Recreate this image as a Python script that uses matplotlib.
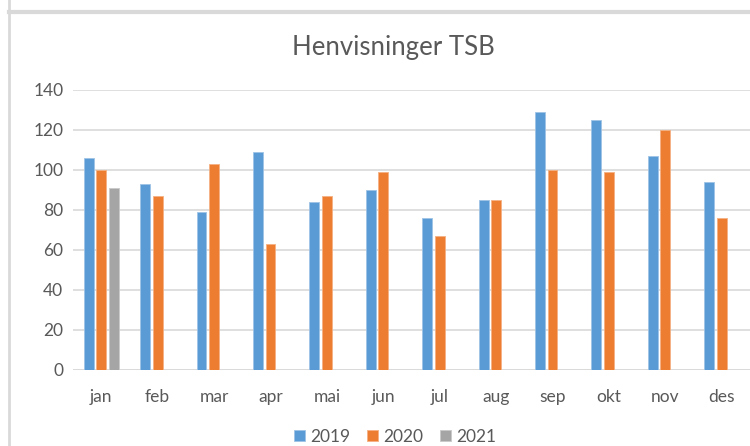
import matplotlib.pyplot as plt
import numpy as np
from matplotlib.lines import Line2D

months = ['jan', 'feb', 'mar', 'apr', 'mai', 'jun', 'jul', 'aug', 'sep', 'okt', 'nov', 'des']
y2019 = [106, 93, 79, 109, 84, 90, 76, 85, 129, 125, 107, 94]
y2020 = [100, 87, 103, 63, 87, 99, 67, 85, 100, 99, 120, 76]
y2021 = [91]

plt.rcParams['font.family'] = ['Lato', 'DejaVu Sans']
txt = '#595959'

fig = plt.figure(figsize=(7.5, 4.46), dpi=100)
ax = fig.add_axes([73 / 750, 1 - 370 / 446, 1 - 73 / 750, (370 - 90) / 446])

x = np.arange(len(months))
w = 0.175
step = 0.222
ax.bar(x - step, y2019, w, color='#5B9BD5', edgecolor='#9DC3E6', linewidth=0.6, label='2019', zorder=3)
ax.bar(x, y2020, w, color='#ED7D31', edgecolor='#F4B183', linewidth=0.6, label='2020', zorder=3)
ax.bar(x[:len(y2021)] + step, y2021, w, color='#A5A5A5', edgecolor='#C9C9C9', linewidth=0.6, label='2021', zorder=3)

ax.set_xlim(-0.5, len(months) - 0.5)
ax.set_ylim(0, 140)
ax.set_yticks(range(0, 141, 20))
ax.set_xticks(x)
ax.set_xticklabels(months)
ax.yaxis.grid(True, color='#D9D9D9', linewidth=1.2, zorder=0)
ax.tick_params(length=0, colors=txt, labelsize=12.5)
ax.tick_params(axis='x', pad=14)
ax.tick_params(axis='y', pad=7)
for s in ax.spines.values():
    s.set_visible(False)
ax.axhline(0, color='#D9D9D9', linewidth=1.2, zorder=1)

fig.text(0.524, 1 - 47 / 446, 'Henvisninger TSB', ha='center', va='center', fontsize=18.5, color=txt)
ax.legend(loc='center', bbox_to_anchor=(395 / 750, 1 - 437 / 446), bbox_transform=fig.transFigure,
          ncol=3, frameon=False, fontsize=12.5, labelcolor=txt, handlelength=0.6, handleheight=0.6,
          handletextpad=0.3, columnspacing=1.0)

# frame of the screenshot
fig.add_artist(Line2D([9 / 750, 1], [1 - 12 / 446, 1 - 12 / 446], color='#D9D9D9', linewidth=3))
fig.add_artist(Line2D([9 / 750, 9 / 750], [0, 1], color='#D9D9D9', linewidth=2))

fig.savefig('out.png', dpi=100)
